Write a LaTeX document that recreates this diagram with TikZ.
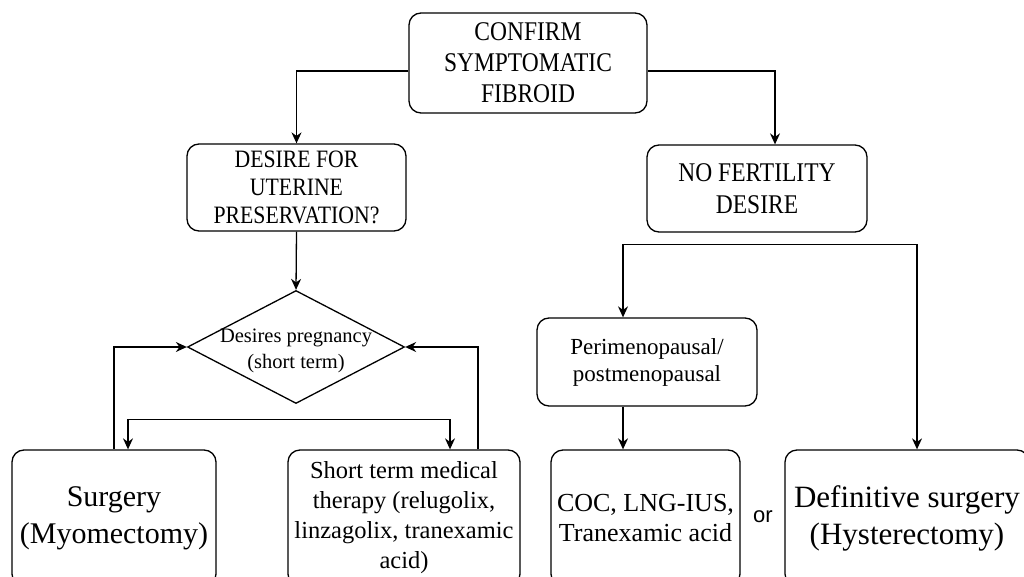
\documentclass[tikz,border=0pt]{standalone}
\usepackage{fontspec}
\setmainfont{Liberation Serif}
\newfontfamily\capsfont[FakeStretch=0.87]{Liberation Serif}
\newfontfamily\orfont{Liberation Sans}
\usetikzlibrary{arrows.meta}
\usetikzlibrary{shapes.geometric}

\newcommand{\fsize}[2]{\fontsize{#1}{#2}\selectfont}

\begin{document}
\begin{tikzpicture}[x=1pt,y=-1pt,
        box/.style={rectangle,draw,rounded corners=12pt,align=center,line width=1.3pt,inner sep=0pt},
        decision/.style={diamond,draw,line width=1.3pt,inner sep=0pt},
        arr/.style={-{Stealth[length=11pt,width=10pt]},line width=1.3pt},
        arrboth/.style={{Stealth[length=11pt,width=10pt]}-{Stealth[length=11pt,width=10pt]},line width=1.3pt}]
        \clip (0,0) rectangle (1024,577);

        \node[box,minimum width=238pt,minimum height=100pt,font=\capsfont\fsize{27}{31}] (conf) at (528,63) {CONFIRM\\SYMPTOMATIC\\FIBROID};
        \node[box,minimum width=219pt,minimum height=87pt,font=\capsfont\fsize{25}{28}] (desire) at (296.5,187.5) {DESIRE FOR\\UTERINE\\PRESERVATION?};
        \node[box,minimum width=220pt,minimum height=87pt,font=\capsfont\fsize{27}{32}] (nofert) at (757,188.5) {NO FERTILITY\\DESIRE};
        \node[decision,minimum width=217pt,minimum height=113pt] (dp) at (296,347) {};
        \node[align=center,font=\fsize{20.5}{26}] (dptext) at (296,351) {Desires pregnancy\\(short term)};
        \node[box,minimum width=204pt,minimum height=136pt,font=\fsize{30}{37}] (surg) at (114,518) {Surgery\\(Myomectomy)};
        \node[box,minimum width=232pt,minimum height=136pt,font=\fsize{24.5}{30}] (short) at (404,518) {Short term medical\\therapy (relugolix,\\linzagolix, tranexamic\\acid)};
        \node[box,minimum width=220pt,minimum height=88pt,font=\fsize{23}{27}] (peri) at (647,362) {Perimenopausal/\\postmenopausal};
        \node[box,minimum width=189pt,minimum height=136pt,font=\fsize{26}{30}] (coc) at (645.5,518) {COC, LNG-IUS,\\Tranexamic acid};
        \node[font=\orfont\fsize{22}{26}] (or) at (763,517) {or};
        \node[box,minimum width=244pt,minimum height=136pt,font=\fsize{31}{37}] (defi) at (907,518) {Definitive surgery\\(Hysterectomy)};

        \draw[arr] ([yshift=-8pt]conf.west) -| (desire.north);
        \draw[arr] ([yshift=-8pt]conf.east) -| ([xshift=18pt]nofert.north);
        \draw[arr] (desire.south) -- (dp.north);
        \draw[arr] (surg.north) |- (dp.west);
        \draw[arr] ([xshift=74pt]short.north) |- (dp.east);
        \draw[arrboth] ([xshift=14pt]surg.north) -- ++(0,-30) -| ([xshift=46pt]short.north);
        \draw[arrboth] ([xshift=-24pt]peri.north) -- ++(0,-73) -| ([xshift=10pt]defi.north);
        \draw[arr] ([xshift=-24pt]peri.south) -- ([xshift=-24pt]peri.south |- coc.north);

    \end{tikzpicture}
\end{document}
